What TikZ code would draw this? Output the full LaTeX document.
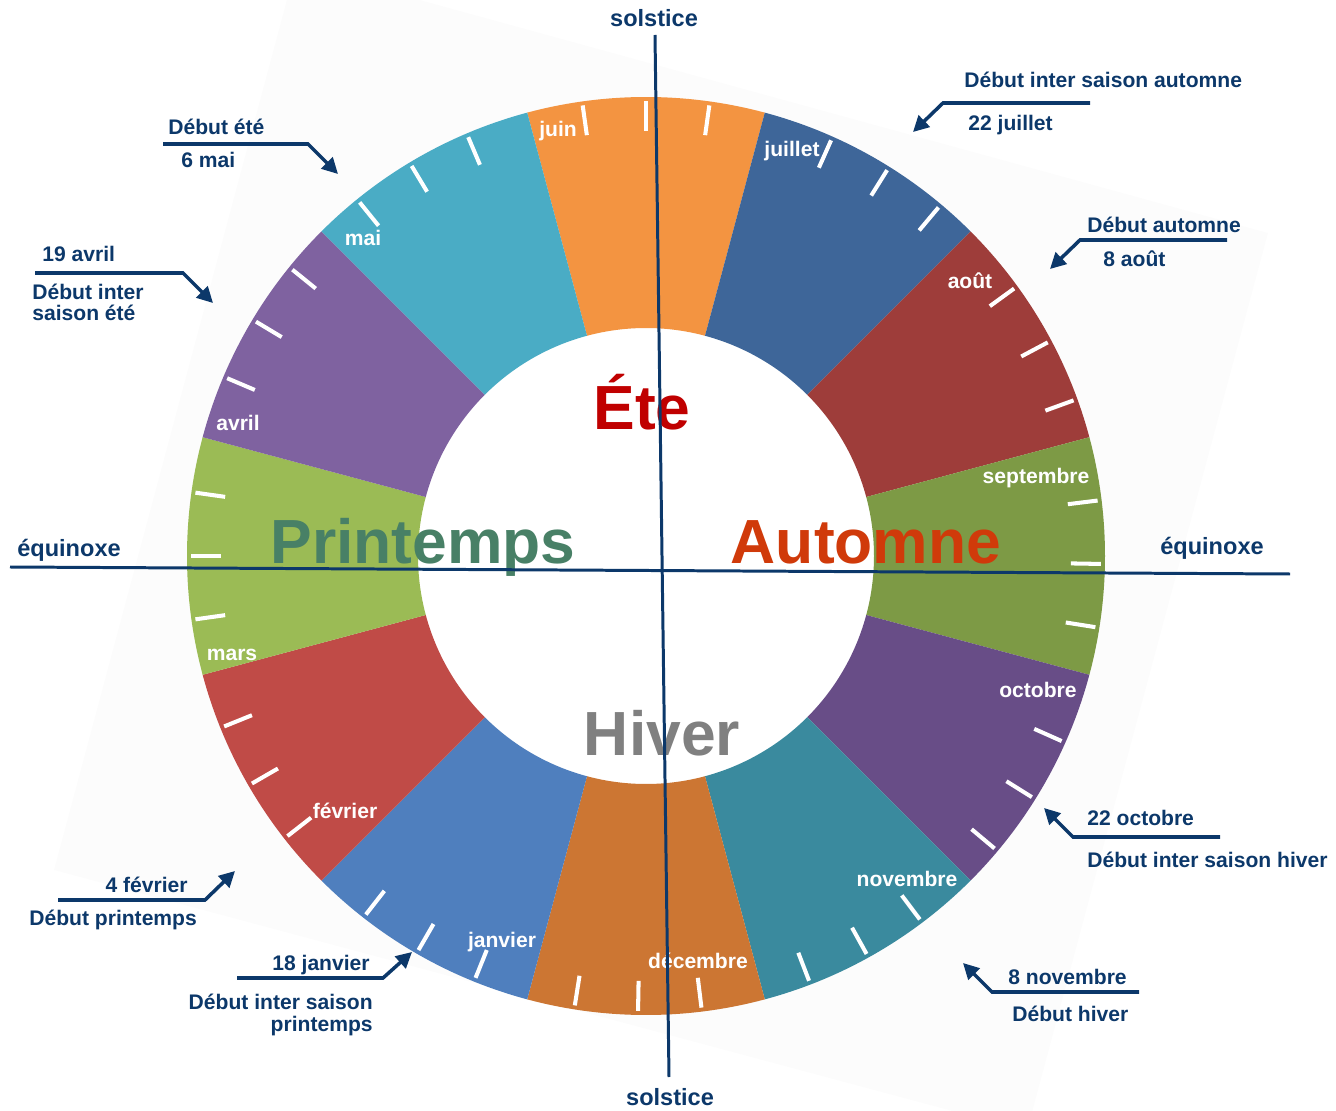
\documentclass[tikz,border=0pt]{standalone}
\usepackage{fontspec}
\setmainfont{Liberation Sans}
\usetikzlibrary{arrows.meta}
\definecolor{navy}{RGB}{12,56,106}
\definecolor{cjuin}{RGB}{243,148,65}
\definecolor{cjuillet}{RGB}{62,102,153}
\definecolor{caout}{RGB}{158,61,58}
\definecolor{cseptembre}{RGB}{125,154,69}
\definecolor{coctobre}{RGB}{104,77,135}
\definecolor{cnovembre}{RGB}{58,138,158}
\definecolor{cdecembre}{RGB}{204,118,51}
\definecolor{cjanvier}{RGB}{79,127,190}
\definecolor{cfevrier}{RGB}{192,75,71}
\definecolor{cmars}{RGB}{155,187,85}
\definecolor{cavril}{RGB}{127,98,160}
\definecolor{cmai}{RGB}{74,172,197}
\definecolor{tete}{RGB}{192,0,0}
\definecolor{tprintemps}{RGB}{72,128,102}
\definecolor{tautomne}{RGB}{208,58,10}
\definecolor{thiver}{RGB}{128,128,128}
\tikzset{
  month/.style={text=white, font=\bfseries\fontsize{12}{14}\selectfont, inner sep=0pt, anchor=base},
  note/.style={text=navy, font=\bfseries\fontsize{12}{14}\selectfont, inner sep=0pt},
  axislabel/.style={text=navy, font=\bfseries\fontsize{13.4}{16}\selectfont, inner sep=0pt, anchor=base},
  season/.style={font=\bfseries\fontsize{35.5}{40}\selectfont, inner sep=0pt, anchor=base},
  callout/.style={navy, line width=2pt, -{Triangle[length=9pt,width=9pt]}},
}
\begin{document}
\begin{tikzpicture}[x=0.02cm, y=-0.02cm]
    \useasboundingbox (0,0) rectangle (1336,1111);
    \clip (0,0) rectangle (1336,1111);
    \fill[black!1.2] (296,-34) -- (1268,233) -- (1027,1131) -- (54,870) -- cycle;
    \begin{scope}[shift={(646,556)}, yscale=-1]
        \fill[white] (0,0) circle (228);
        \foreach \a/\col in {90/cjuin, 60/cjuillet, 30/caout, 0/cseptembre, -30/coctobre, -60/cnovembre,
                             -90/cdecembre, -120/cjanvier, -150/cfevrier, -180/cmars, -210/cavril, -240/cmai}
            \fill[\col] ({\a-15}:228) arc[start angle=\a-15, end angle=\a+15, radius=228]
                -- ({\a+15}:459) arc[start angle=\a+15, end angle=\a-15, radius=459] -- cycle;
        \foreach \a in {90,58,28,-1,-32,-61,-91,-120,-150,-180,-211,-239}
            \foreach \d in {-8,0,8}
                \draw[white, line width=2.3pt] ({\a+\d}:425) -- ({\a+\d}:455);
    \end{scope}
    \node[month] (njuin) at (558,137) {juin};
    \node[month] (njuillet) at (792,157) {juillet};
    \node[month] (naout) at (970,289) {août};
    \node[month] (nseptembre) at (1036,483) {septembre};
    \node[month] (noctobre) at (1038,697) {octobre};
    \node[month] (nnovembre) at (907,886) {novembre};
    \node[month] (ndecembre) at (698,968) {décembre};
    \node[month] (njanvier) at (502,947) {janvier};
    \node[month] (nfevrier) at (345,818) {février};
    \node[month] (nmars) at (232,660) {mars};
    \node[month] (navril) at (238,431) {avril};
    \node[month] (nmai) at (363,246) {mai};
    \node[season, text=tete] (ete) at (642,430) {Éte};
    \node[season, text=tprintemps] (printemps) at (423,563) {Printemps};
    \node[season, text=tautomne] (automne) at (866,563) {Automne};
    \node[season, text=thiver] (hiver) at (662,755) {Hiver};
    \coordinate (soltop) at (655,35);
    \coordinate (solbot) at (669,1077);
    \coordinate (equleft) at (10,567);
    \coordinate (equright) at (1290,574);
    \draw[navy, line width=1.7pt] (soltop) -- (solbot);
    \draw[navy, line width=1.7pt] (equleft) -- (equright);
    \node[axislabel] (soltext) at (654,27) {solstice};
    \node[axislabel] (solbottext) at (670,1105) {solstice};
    \node[axislabel] (equtext) at (69,557) {équinoxe};
    \node[axislabel] (equrighttext) at (1212,555) {équinoxe};
    \coordinate (mai6a) at (163,144);   \coordinate (mai6b) at (308,144);   \coordinate (mai6) at (338,174);
    \coordinate (avr19a) at (35,273);   \coordinate (avr19b) at (183,273);  \coordinate (avr19) at (213,303);
    \coordinate (jul22a) at (1090,103); \coordinate (jul22b) at (943,103);  \coordinate (jul22) at (913,132);
    \coordinate (aou8a) at (1227,240);  \coordinate (aou8b) at (1080,240);  \coordinate (aou8) at (1050,269);
    \coordinate (oct22a) at (1220,837); \coordinate (oct22b) at (1073,837); \coordinate (oct22) at (1044,808);
    \coordinate (nov8a) at (1139,992);  \coordinate (nov8b) at (992,992);   \coordinate (nov8) at (963,963);
    \coordinate (fev4a) at (58,900);    \coordinate (fev4b) at (205,900);   \coordinate (fev4) at (235,871);
    \coordinate (jan18a) at (237,978);  \coordinate (jan18b) at (383,978);  \coordinate (jan18) at (412,952);
    \foreach \c in {mai6, avr19, jul22, aou8, oct22, nov8, fev4, jan18}
        \draw[callout] (\c a) -- (\c b) -- (\c);
    \node[note, anchor=base west] (t1) at (168,135) {Début été};
    \node[note, anchor=base west] (t2) at (181,168) {6 mai};
    \node[note, anchor=base west] (t3) at (42,262) {19 avril};
    \node[note, anchor=base west] (t4) at (32,300) {Début inter};
    \node[note, anchor=base west] (t5) at (32,321) {saison été};
    \node[note, anchor=base west] (t6) at (964,88) {Début inter saison automne};
    \node[note, anchor=base west] (t7) at (968,131) {22 juillet};
    \node[note, anchor=base west] (t8) at (1087,233) {Début automne};
    \node[note, anchor=base west] (t9) at (1103,267) {8 août};
    \node[note, anchor=base west] (t10) at (1087,825) {22 octobre};
    \node[note, anchor=base west] (t11) at (1087,867) {Début inter saison hiver};
    \node[note, anchor=base west] (t12) at (1008,984) {8 novembre};
    \node[note, anchor=base west] (t13) at (1012,1021) {Début hiver};
    \node[note, anchor=base east] (t14) at (188,892) {4 février};
    \node[note, anchor=base west] (t15) at (29,925) {Début printemps};
    \node[note, anchor=base east] (t16) at (370,970) {18 janvier};
    \node[note, anchor=base east] (t17) at (373,1009) {Début inter saison};
    \node[note, anchor=base east] (t18) at (373,1031) {printemps};
\end{tikzpicture}
\end{document}
